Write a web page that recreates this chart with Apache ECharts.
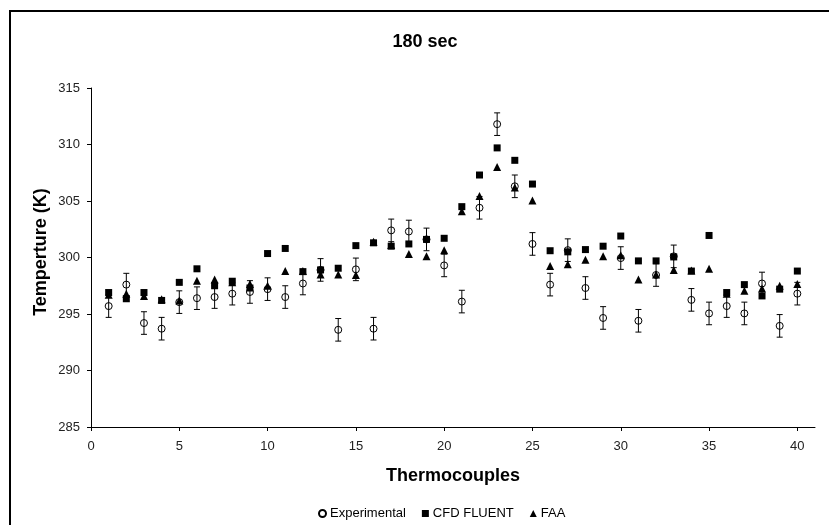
<!DOCTYPE html>
<html>
<head>
<meta charset="utf-8">
<script src="https://cdn.jsdelivr.net/npm/echarts@6/dist/echarts.min.js"></script>
<style>html,body{margin:0;padding:0;background:#fff}#c{width:829px;height:525px}</style>
</head>
<body>
<div id="c"></div>
<script>
const thermocouples = [1,2,3,4,5,6,7,8,9,10,11,12,13,14,15,16,17,18,19,20,21,22,23,24,25,26,27,28,29,30,31,32,33,34,35,36,37,38,39,40];
const experimental = [295.7,297.6,294.2,293.7,296.05,296.4,296.5,296.8,296.95,297.2,296.5,297.7,298.9,293.6,298.95,293.7,302.4,302.3,301.6,299.3,296.1,304.4,311.8,306.3,301.2,297.6,300.65,297.3,294.65,299.95,294.4,298.45,300.1,296.25,295.05,295.7,295.05,297.7,293.95,296.8];
const expError = [1.0,1.0,1.0,1.0,1.0,1.0,1.0,1.0,1.0,1.0,1.0,1.0,1.0,1.0,1.0,1.0,1.0,1.0,1.0,1.0,1.0,1.0,1.0,1.0,1.0,1.0,1.0,1.0,1.0,1.0,1.0,1.0,1.0,1.0,1.0,1.0,1.0,1.0,1.0,1.0];
const cfdFluent = [296.9,296.35,296.9,296.2,297.8,299.0,297.5,297.9,297.3,300.35,300.8,298.75,298.9,299.05,301.05,301.3,301.0,301.2,301.6,301.7,304.5,307.3,309.7,308.6,306.5,300.6,300.5,300.7,301.0,301.9,299.7,299.7,300.05,298.8,301.95,296.9,297.6,296.6,297.2,298.8];
const faa = [296.7,296.8,296.6,296.3,296.2,297.95,298.05,297.8,297.65,297.5,298.8,298.8,298.5,298.5,298.45,301.4,301.1,300.3,300.1,300.65,304.1,305.45,308.0,306.2,305.05,299.25,299.4,299.8,300.1,300.2,298.05,298.5,298.9,298.85,299.0,296.8,297.05,297.25,297.5,297.65];
const xTicks = [0,5,10,15,20,25,30,35,40];
const yTicks = [285,290,295,300,305,310,315];

const FONT = 'Liberation Sans, Arial, sans-serif';
const chart = echarts.init(document.getElementById('c'), null, {renderer:'canvas'});

const pair = (ys) => thermocouples.map((x,i)=>[x, ys[i]]);
const errData = thermocouples.map((x,i)=>[x, experimental[i]-expError[i], experimental[i]+expError[i]]);

chart.setOption({
  animation: false,
  backgroundColor: '#fff',
  grid: {left: 91, right: 14, top: 88, bottom: 98},
  xAxis: {
    type: 'value', min: 0, max: 41, interval: 5,
    axisLine: {show: true, onZero: false, lineStyle: {color: '#000', width: 1}},
    axisTick: {show: true, inside: false, length: 4, lineStyle: {color: '#000'}, customValues: xTicks},
    axisLabel: {color: '#222', fontFamily: FONT, fontSize: 13, margin: 13, customValues: xTicks},
    splitLine: {show: false}
  },
  yAxis: {
    type: 'value', min: 285, max: 315, interval: 5,
    axisLine: {show: true, onZero: false, lineStyle: {color: '#000', width: 1}},
    axisTick: {show: true, inside: false, length: 4, lineStyle: {color: '#000'}, customValues: yTicks},
    axisLabel: {color: '#222', fontFamily: FONT, fontSize: 13, margin: 11, customValues: yTicks},
    splitLine: {show: false}
  },
  legend: {
    left: 313, top: 502,
    itemWidth: 7, itemHeight: 7, itemGap: 16,
    textStyle: {fontFamily: FONT, fontSize: 13, color: '#000', padding: [0,0,0,-1]},
    data: [
      {name: 'Experimental', icon: 'circle'},
      {name: 'CFD FLUENT', icon: 'rect'},
      {name: 'FAA', icon: 'triangle'}
    ]
  },
  graphic: [
    {type: 'rect', shape: {x: 10, y: 11, width: 830, height: 530}, style: {fill: 'none', stroke: '#000', lineWidth: 2}, silent: true},
    {type: 'text', x: 425, y: 42, style: {text: '180 sec', font: 'bold 18px ' + FONT, fill: '#000', textAlign: 'center', textVerticalAlign: 'middle'}},
    {type: 'text', x: 453, y: 476, style: {text: 'Thermocouples', font: 'bold 18px ' + FONT, fill: '#000', textAlign: 'center', textVerticalAlign: 'middle'}},
    {type: 'text', x: 41, y: 252, rotation: Math.PI/2, style: {text: 'Temperture (K)', font: 'bold 18px ' + FONT, fill: '#000', textAlign: 'center', textVerticalAlign: 'middle'}}
  ],
  series: [
    {
      name: 'ExpError', type: 'custom', data: errData, z: 2,
      renderItem: function(params, api) {
        const x = api.value(0), lo = api.value(1), hi = api.value(2);
        const pTop = api.coord([x, hi]);
        const pBot = api.coord([x, lo]);
        const w = 3;
        const s = {stroke: '#000', lineWidth: 1};
        return {type: 'group', children: [
          {type: 'line', shape: {x1: pTop[0], y1: pTop[1], x2: pBot[0], y2: pBot[1]}, style: s},
          {type: 'line', shape: {x1: pTop[0]-w, y1: pTop[1], x2: pTop[0]+w, y2: pTop[1]}, style: s},
          {type: 'line', shape: {x1: pBot[0]-w, y1: pBot[1], x2: pBot[0]+w, y2: pBot[1]}, style: s}
        ]};
      }
    },
    {
      name: 'Experimental', type: 'scatter', data: pair(experimental), symbol: 'circle', symbolSize: 7, z: 3,
      itemStyle: {color: 'rgba(255,255,255,0)', borderColor: '#000', borderWidth: 1, opacity: 1}
    },
    {
      name: 'CFD FLUENT', type: 'scatter', data: pair(cfdFluent), symbol: 'rect', symbolSize: 7, z: 4,
      itemStyle: {color: '#000', opacity: 1}
    },
    {
      name: 'FAA', type: 'scatter', data: pair(faa), symbol: 'triangle', symbolSize: 8, z: 5,
      itemStyle: {color: '#000', opacity: 1}
    }
  ]
});
</script>
</body>
</html>
